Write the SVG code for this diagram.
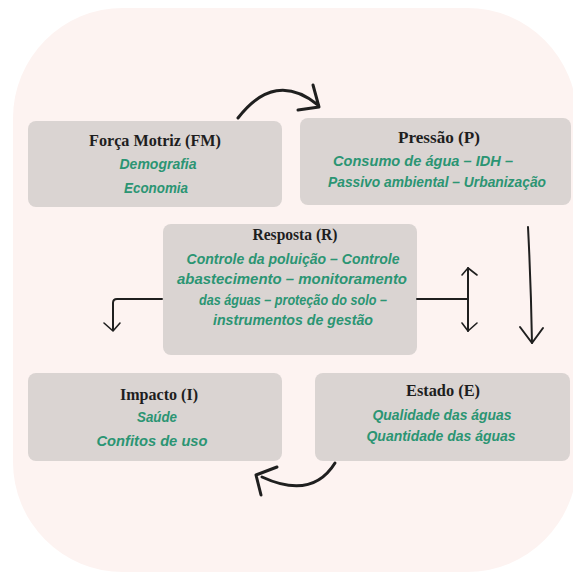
<svg xmlns="http://www.w3.org/2000/svg" width="573" height="576" viewBox="0 0 573 576">
<style>
.box{fill:#dad4d2;}
.t{font-family:"Liberation Serif","Times New Roman",serif;font-weight:bold;font-size:17px;fill:#1e1e1e;text-anchor:middle;}
.g{font-family:"Liberation Sans Narrow","Liberation Sans",Arial,sans-serif;font-weight:bold;font-style:italic;font-size:15.5px;fill:#2b9573;text-anchor:middle;}
.c{fill:none;stroke:#1f1f1f;stroke-linecap:round;stroke-linejoin:round;}
</style>
<rect x="0" y="0" width="573" height="576" fill="#ffffff"/>
<rect x="13" y="8" width="564" height="564" rx="110" ry="110" fill="#fdf3f1"/>
<g id="fm">
<rect class="box" x="28" y="121" width="254" height="86" rx="8"/>
<text class="t" x="155" y="146" textLength="132" lengthAdjust="spacingAndGlyphs">Força Motriz (FM)</text>
<text class="g" x="158" y="169" textLength="77" lengthAdjust="spacingAndGlyphs">Demografia</text>
<text class="g" x="156" y="193" textLength="64" lengthAdjust="spacingAndGlyphs">Economia</text>
</g>
<g id="p">
<rect class="box" x="300" y="118" width="271" height="87" rx="8"/>
<text class="t" x="439" y="143" textLength="82" lengthAdjust="spacingAndGlyphs">Pressão (P)</text>
<text class="g" x="423" y="166" textLength="180" lengthAdjust="spacingAndGlyphs">Consumo de água – IDH –</text>
<text class="g" x="437" y="187" textLength="218" lengthAdjust="spacingAndGlyphs">Passivo ambiental – Urbanização</text>
</g>
<g id="r">
<rect class="box" x="163" y="224" width="254" height="131" rx="8"/>
<text class="t" x="295" y="240" textLength="85" lengthAdjust="spacingAndGlyphs">Resposta (R)</text>
<text class="g" x="293" y="264" textLength="213" lengthAdjust="spacingAndGlyphs">Controle da poluição – Controle</text>
<text class="g" x="292" y="284" textLength="230" lengthAdjust="spacingAndGlyphs">abastecimento –  monitoramento</text>
<text class="g" x="293" y="305" textLength="188" lengthAdjust="spacingAndGlyphs">das águas – proteção do solo –</text>
<text class="g" x="293" y="325" textLength="160" lengthAdjust="spacingAndGlyphs">instrumentos de gestão</text>
</g>
<g id="i">
<rect class="box" x="28" y="373" width="254" height="88" rx="8"/>
<text class="t" x="159" y="400" textLength="78" lengthAdjust="spacingAndGlyphs">Impacto (I)</text>
<text class="g" x="157" y="422" textLength="40" lengthAdjust="spacingAndGlyphs">Saúde</text>
<text class="g" x="152" y="446" textLength="111" lengthAdjust="spacingAndGlyphs">Confitos de uso</text>
</g>
<g id="e">
<rect class="box" x="315" y="373" width="255" height="88" rx="8"/>
<text class="t" x="443" y="396" textLength="74" lengthAdjust="spacingAndGlyphs">Estado (E)</text>
<text class="g" x="442" y="420" textLength="139" lengthAdjust="spacingAndGlyphs">Qualidade das águas</text>
<text class="g" x="441" y="441" textLength="149" lengthAdjust="spacingAndGlyphs">Quantidade das águas</text>
</g>
<g id="connectors">
<path class="c" stroke-width="3" d="M238,118 Q275,70 318,105"/>
<path class="c" stroke-width="3" d="M313,85 L319,107 L298,110"/>
<path class="c" stroke-width="2" d="M528,227 Q531,285 532,343"/>
<path class="c" stroke-width="2" d="M520,327 L532,343 L543,328"/>
<path class="c" stroke-width="2" d="M417,299 L468,299 M468,268 L468,331"/>
<path class="c" stroke-width="1.6" d="M462,275 L468,268 L477,275 M462,323 L468,331 L477,323"/>
<path class="c" stroke="#333" stroke-width="2" d="M162,299 L117,299 Q113,299 113,303 L113,330"/>
<path class="c" stroke="#333" stroke-width="1.6" d="M104,323 L113,331 L120,323"/>
<path class="c" stroke-width="3" d="M335,463 Q312,500 262,477"/>
<path class="c" stroke-width="3" d="M277,467 L256,475 L261,495"/>
</g>
</svg>
